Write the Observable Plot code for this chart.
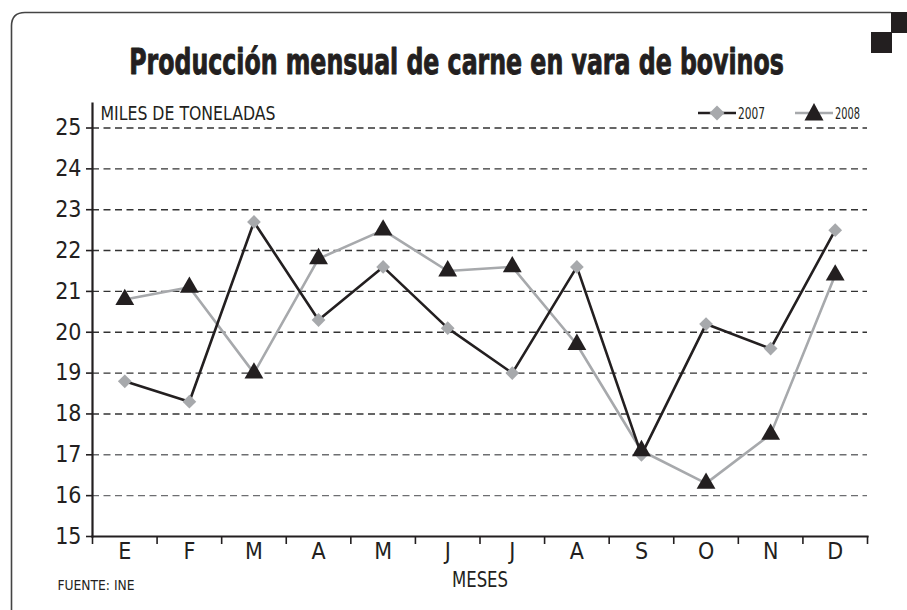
<!DOCTYPE html>
<html>
<head>
<meta charset="utf-8">
<script src="https://cdn.jsdelivr.net/npm/d3@7"></script>
<script src="https://cdn.jsdelivr.net/npm/@observablehq/plot@0.6"></script>
<style>
  html, body { margin: 0; padding: 0; background: #fff; overflow: hidden; }
  #wrap { position: relative; width: 907px; height: 610px; overflow: hidden; }
  #wrap > svg { position: absolute; left: 0; top: 0; }
</style>
</head>
<body>
<div id="wrap"></div>
<script>
// ---- data ----
const title = "Producción mensual de carne en vara de bovinos";
const yLabel = "MILES DE TONELADAS";
const xLabel = "MESES";
const source = "FUENTE: INE";
const months = ["E","F","M","A","M","J","J","A","S","O","N","D"];
const series = ["2007", "2008"];
const v2007 = [18.8, 18.3, 22.7, 20.3, 21.6, 20.1, 19.0, 21.6, 17.0, 20.2, 19.6, 22.5];
const v2008 = [20.8, 21.1, 19.0, 21.8, 22.5, 21.5, 21.6, 19.7, 17.1, 16.3, 17.5, 21.4];
const yTicks = [15, 16, 17, 18, 19, 20, 21, 22, 23, 24, 25];
const gridValues = [16, 17, 18, 19, 20, 21, 22, 23, 24, 25];
const monthBounds = [0,1,2,3,4,5,6,7,8,9,10,11,12];

const FONT = '"Liberation Sans Narrow", "DejaVu Sans Condensed", Roboto, sans-serif';
const BLACK = "#231f20";
const GRAY = "#a7a9ac";

const rows07 = v2007.map((v, i) => ({i: i + 0.5, v}));
const rows08 = v2008.map((v, i) => ({i: i + 0.5, v}));

const chart = Plot.plot({
  width: 907,
  height: 610,
  marginLeft: 92,
  marginRight: 40,
  marginTop: 103,
  marginBottom: 74,
  x: {domain: [0, 12]},
  y: {domain: [15, 25.6]},
  style: {fontFamily: FONT, fontStretch: "condensed", background: "transparent", color: BLACK, overflow: "visible"},
  marks: [
    Plot.ruleY(gridValues, {stroke: d => d <= 17 ? "#6d6e71" : "#333", strokeWidth: 1.4, strokeDasharray: "7,4.5"}),
    Plot.frame({anchor: "left", stroke: BLACK, strokeWidth: 2.2}),
    Plot.frame({anchor: "bottom", stroke: BLACK, strokeWidth: 2.2}),
    Plot.axisY(yTicks, {tickSize: 6, tickPadding: 5, fontSize: 23, label: null, stroke: BLACK, strokeWidth: 1.6, fill: BLACK, className: "ytick"}),
    Plot.axisX(monthBounds, {tickSize: 8, tickFormat: () => "", label: null, stroke: BLACK, strokeWidth: 1.6}),
    Plot.text(months, {x: (d, i) => i + 0.5, frameAnchor: "bottom", dy: 22, fontSize: 23, fill: BLACK}),
    Plot.text([xLabel], {frameAnchor: "bottom", dy: 50, fontSize: 21, fill: BLACK, className: "xlab"}),
    Plot.text([yLabel], {frameAnchor: "top-left", textAnchor: "start", lineAnchor: "middle", dx: 8, dy: 10, fontSize: 20, fill: BLACK, className: "ylab"}),
    Plot.text([source], {frameAnchor: "bottom-left", textAnchor: "start", lineAnchor: "middle", dx: -35, dy: 49, fontSize: 14.5, fill: BLACK, className: "src"}),
    Plot.line(rows08, {x: "i", y: "v", stroke: GRAY, strokeWidth: 2.6}),
    Plot.line(rows07, {x: "i", y: "v", stroke: BLACK, strokeWidth: 2.6}),
    Plot.dot(rows07, {x: "i", y: "v", symbol: "diamond2", r: 6.2, fill: GRAY, stroke: "none"}),
    Plot.dot(rows08, {x: "i", y: "v", symbol: "triangle", r: 7, fill: BLACK, stroke: "none"})
  ]
});

const wrap = document.getElementById("wrap");
wrap.appendChild(chart);

// condense text widths to match the narrow typeface of the original
function squeeze(sel, width) {
  d3.select(chart).selectAll(sel).each(function() {
    const w = this.getComputedTextLength();
    if (w > width) d3.select(this).attr("textLength", width).attr("lengthAdjust", "spacingAndGlyphs");
  });
}
squeeze("g.ylab text", 175);
squeeze("g.xlab text", 56);
squeeze("g.src text", 77);

// overlay: frame, decoration, title, legend
const ov = d3.select(wrap).append("svg")
  .attr("width", 907).attr("height", 610)
  .style("pointer-events", "none");

ov.append("path")
  .attr("d", "M11.5,640 L11.5,26 Q11.5,12.5 25,12.5 L891,12.5")
  .attr("fill", "none").attr("stroke", "#444").attr("stroke-width", 1.6);
ov.append("rect").attr("x", 891).attr("y", 12).attr("width", 16).attr("height", 21).attr("fill", BLACK);
ov.append("rect").attr("x", 871).attr("y", 32).attr("width", 21).attr("height", 21).attr("fill", BLACK);

const tg = ov.append("g");
const tt = tg.append("text")
  .attr("x", 0).attr("y", 0)
  .attr("text-anchor", "middle")
  .attr("font-family", FONT).attr("font-weight", "bold").attr("font-size", 35)
  .attr("font-stretch", "condensed")
  .attr("fill", BLACK).attr("stroke", BLACK).attr("stroke-width", 0.9).attr("stroke-linejoin", "round")
  .text(title);
const tw = tt.node().getComputedTextLength();
tg.attr("transform", `translate(456.5,74) scale(${Math.min(1, 655 / tw)},1)`);

// legend
const legendX = [698, 795];
const legendW = [27, 25];
series.forEach((s, k) => {
  const g = ov.append("g").attr("transform", `translate(${legendX[k]},113)`);
  g.append("line").attr("x1", 0).attr("x2", 38).attr("y1", 0).attr("y2", 0)
    .attr("stroke", k === 0 ? BLACK : GRAY).attr("stroke-width", 2.6);
  if (k === 0) {
    g.append("path").attr("d", "M19,-7.5 L26.5,0 L19,7.5 L11.5,0 Z").attr("fill", GRAY);
  } else {
    g.append("path").attr("d", "M19,-10 L28.5,7.5 L9.5,7.5 Z").attr("fill", BLACK);
  }
  const t = g.append("text").attr("x", 40).attr("y", 5.5)
    .attr("font-family", FONT).attr("font-size", 15).attr("font-stretch", "condensed")
    .attr("fill", BLACK).text(s);
  if (t.node().getComputedTextLength() > legendW[k]) t.attr("textLength", legendW[k]).attr("lengthAdjust", "spacingAndGlyphs");
});
</script>
</body>
</html>
